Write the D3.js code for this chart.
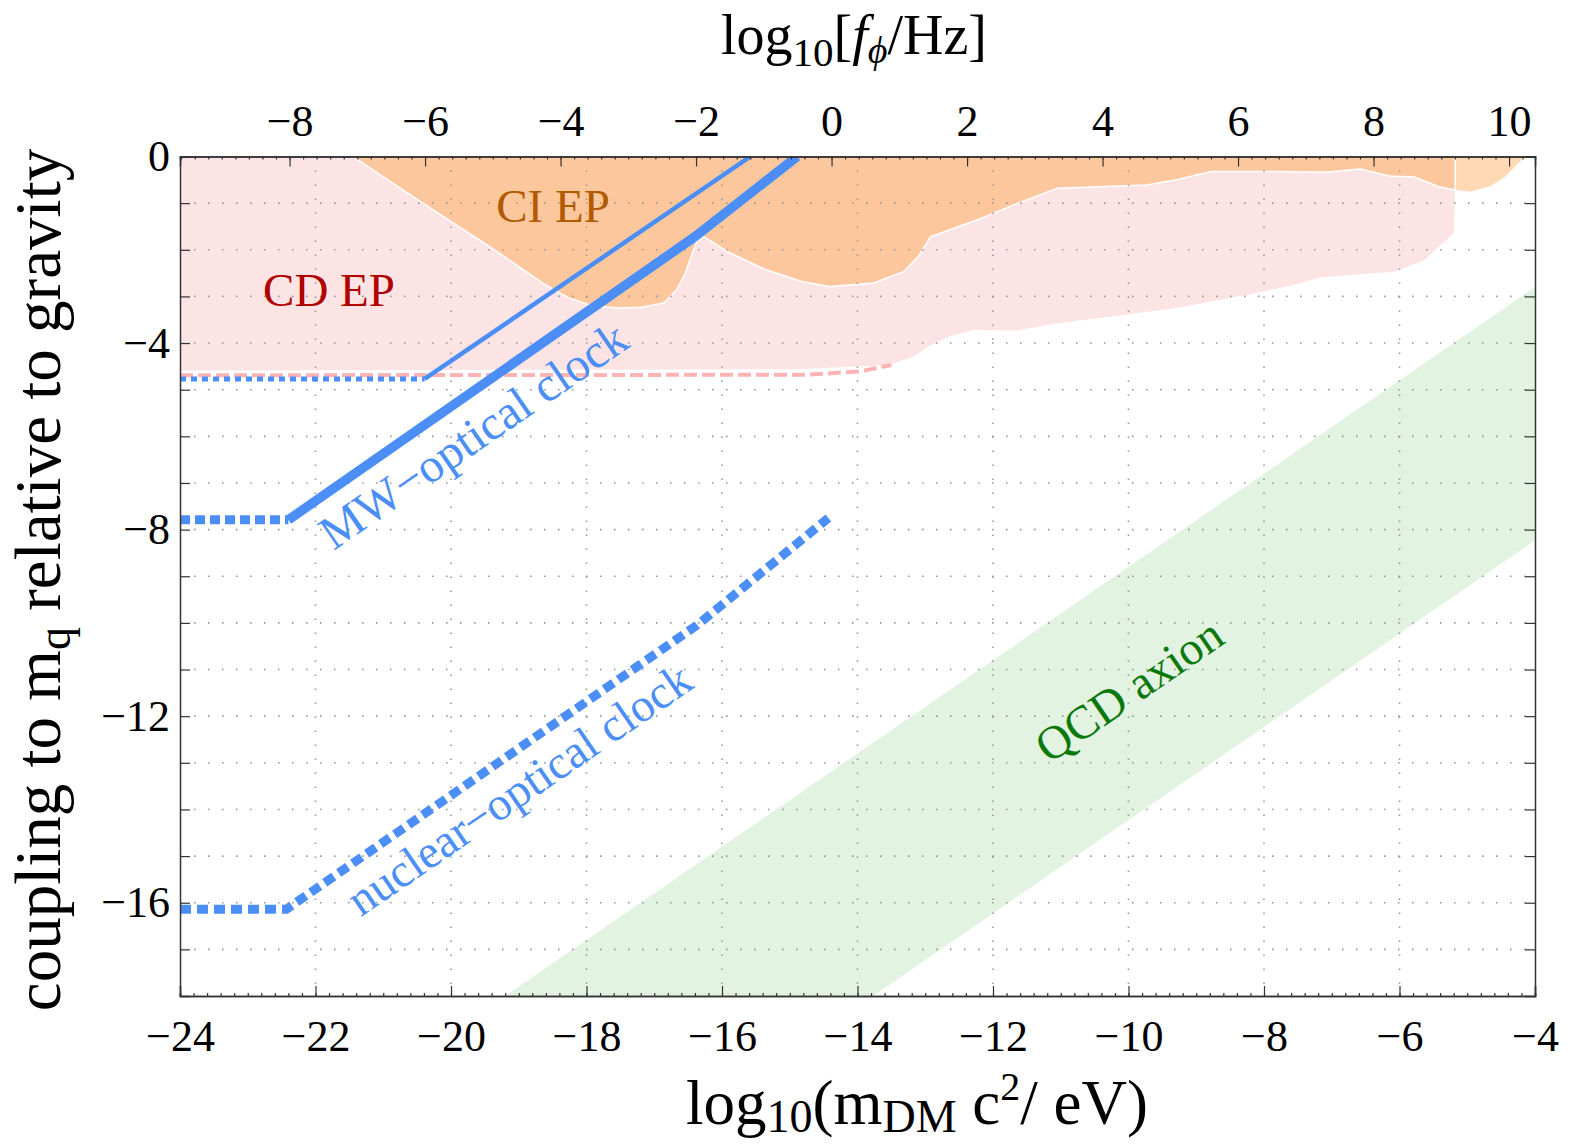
<!DOCTYPE html>
<html>
<head>
<meta charset="utf-8">
<script src="https://cdn.jsdelivr.net/npm/d3@7"></script>
<style>
  body { margin: 0; background: #fff; }
  svg { display: block; font-family: "Liberation Serif", "DejaVu Serif", serif; }
</style>
</head>
<body>
<svg id="chart" width="1577" height="1148"></svg>
<script>
// x = log10(m c^2 / eV), y = log10(coupling relative to gravity)
const xTicks = [-24, -22, -20, -18, -16, -14, -12, -10, -8, -6, -4];
const fTicks = [-8, -6, -4, -2, 0, 2, 4, 6, 8, 10];
const yTicks = [-16, -12, -8, -4, 0];
const F_OFFSET = 14.383; // log10(eV/h / Hz)

// CD EP (pink) excluded region, outline
const cdEP = [[-24, 0], [-5.18, 0], [-5.18, -0.72], [-5.2, -1.64], [-5.63, -2.22], [-6.07, -2.47],
  [-7.17, -2.59], [-7.54, -2.75], [-8.27, -2.97], [-9.29, -3.25], [-10.02, -3.39], [-10.75, -3.52],
  [-11.19, -3.61], [-11.63, -3.73], [-12.29, -3.72], [-12.65, -3.86], [-12.95, -4.07], [-13.17, -4.29],
  [-13.54, -4.47], [-14.85, -4.56], [-24, -4.59]];

// CI EP (orange) excluded region, outline
const ciEP = [[-21.45, 0], [-20.49, -0.93], [-19.43, -1.93], [-18.64, -2.72], [-18.25, -3.04],
  [-17.92, -3.2], [-17.52, -3.25], [-17.19, -3.23], [-16.86, -3.14], [-16.67, -2.86], [-16.54, -2.5],
  [-16.44, -2.07], [-16.37, -1.82], [-16.27, -1.72], [-15.88, -2.07], [-15.35, -2.43], [-14.82, -2.68],
  [-14.41, -2.79], [-13.76, -2.71], [-13.32, -2.47], [-13.1, -2.14], [-12.92, -1.72], [-12.29, -1.39],
  [-12.0, -1.22], [-11.63, -1.0], [-11.05, -0.68], [-9.73, -0.61], [-9.29, -0.5], [-8.78, -0.32],
  [-7.9, -0.32], [-7.1, -0.34], [-6.58, -0.27], [-6.15, -0.42], [-5.78, -0.44], [-5.42, -0.65],
  [-5.18, -0.72], [-5.18, 0]];

// lighter region in the top right corner
const peach = [[-5.18, 0], [-5.18, -0.72], [-4.95, -0.75], [-4.66, -0.64], [-4.44, -0.43], [-4.15, 0]];

// dashed CD EP edge
const cdDashed = [[-24, -4.69], [-14.78, -4.68], [-13.97, -4.61], [-13.5, -4.47]];

// QCD axion band edges
const qcdUpper = [[-19.2, -18], [-4, -2.8]];
const qcdLower = [[-13.77, -18], [-4, -8.23]];

// clock curves
const mwThinSolid = [[-20.39, -4.77], [-15.58, 0]];
const mwThinDotted = [[-24, -4.77], [-20.39, -4.77]];
const mwThickSolid = [[-22.4, -7.79], [-16.4, -1.72], [-14.89, 0]];
const mwThickDotted = [[-24, -7.79], [-22.4, -7.79]];
const nuclear = [[-24, -16.14], [-22.43, -16.14], [-16.37, -10.05], [-14.43, -7.75]];

const colors = {
    pink: '#fde4e4',
    orange: '#fdc79d',
    peach: '#fed9b3',
    green: '#e2f3e2',
    blue: '#4b8ef6',
    pinkLine: '#ffb3b3',
    grid: '#9a9a9a'
};

const svg = d3.select('#chart');
const x = d3.scaleLinear().domain([-24, -4]).range([180, 1535]);
const xTop = d3.scaleLinear().domain([-24 + F_OFFSET, -4 + F_OFFSET]).range([180, 1535]);
const y = d3.scaleLinear().domain([-18, 0]).range([996, 156.5]);

const line = d3.line().x(d => x(d[0])).y(d => y(d[1]));

svg.append('defs').append('clipPath').attr('id', 'plot')
    .append('rect').attr('x', x(-24)).attr('y', y(0))
    .attr('width', x(-4) - x(-24)).attr('height', y(-18) - y(0));

const plot = svg.append('g').attr('clip-path', 'url(#plot)');

// QCD band
plot.append('path')
    .attr('d', line([...qcdUpper, ...qcdLower.slice().reverse()]) + 'Z')
    .attr('fill', colors.green);

plot.append('path').attr('d', line(cdEP) + 'Z').attr('fill', colors.pink);
plot.append('path').attr('d', line(peach) + 'Z').attr('fill', colors.peach);
plot.append('path').attr('d', line(ciEP) + 'Z')
    .attr('fill', colors.orange).attr('stroke', '#fff').attr('stroke-width', 1.5);

plot.append('path').attr('d', line(cdDashed))
    .attr('fill', 'none').attr('stroke', colors.pinkLine)
    .attr('stroke-width', 4).attr('stroke-dasharray', '13,5');

// dotted grid
const gridV = d3.range(-22, -4, 2);
const gridH = d3.range(-17, 0, 1);
plot.selectAll('.gv').data(gridV).join('line')
    .attr('x1', d => x(d)).attr('x2', d => x(d))
    .attr('y1', y(0)).attr('y2', y(-18))
    .attr('stroke', colors.grid).attr('stroke-width', 1.6)
    .attr('stroke-dasharray', '1.6,12.4');
plot.selectAll('.gh').data(gridH).join('line')
    .attr('x1', x(-24)).attr('x2', x(-4))
    .attr('y1', d => y(d)).attr('y2', d => y(d))
    .attr('stroke', colors.grid).attr('stroke-width', 1.6)
    .attr('stroke-dasharray', '1.6,12.4');

// clock lines
function curve(pts, width, dash) {
    plot.append('path').attr('d', line(pts))
        .attr('fill', 'none').attr('stroke', colors.blue)
        .attr('stroke-width', width)
        .attr('stroke-linejoin', 'miter')
        .attr('stroke-dasharray', dash || null);
}
curve(mwThinDotted, 5, '6,5');
curve(mwThinSolid, 4.5);
curve(mwThickDotted, 9, '10,5');
curve(mwThickSolid, 9.5);
curve(nuclear, 9, '11,6');

// labels inside the plot
const ang = -Math.atan((y(-1) - y(0)) / (x(-23) - x(-24))) * 180 / Math.PI;
function label(txt, cx, cy, color, rot, size) {
    svg.append('text')
        .attr('transform', `translate(${cx},${cy}) rotate(${rot})`)
        .attr('text-anchor', 'middle').attr('dominant-baseline', 'central')
        .attr('font-size', size).attr('fill', color).text(txt);
}
label('CI EP', 553, 206, '#b25a00', 0, 47);
label('CD EP', 329, 290, '#b00000', 0, 47);
label('MW\u2212optical clock', 473, 435, colors.blue, ang, 48);
label('nuclear\u2212optical clock', 519, 789, colors.blue, ang, 47);
label('QCD axion', 1129, 690, '#0a780a', ang, 47);

// axes
const fmt = d3.format('d');
const tickFont = g => g.selectAll('text').attr('font-size', 44).attr('fill', '#000')
    .attr('font-family', '"Liberation Serif", serif');
const axisStyle = g => {
    g.select('.domain').attr('stroke', '#333').attr('stroke-width', 1.5);
    g.selectAll('.tick line').attr('stroke', '#333').attr('stroke-width', 1.2);
};

svg.append('g').attr('transform', `translate(0,${y(-18)})`)
    .call(d3.axisBottom(x).tickValues(d3.range(-24, -3.99, 0.2)).tickSize(-3).tickFormat(''))
    .call(axisStyle);
svg.append('g').attr('transform', `translate(0,${y(-18)})`)
    .call(d3.axisBottom(x).tickValues(xTicks).tickSize(-10).tickPadding(24).tickFormat(fmt))
    .call(axisStyle).call(tickFont);

svg.append('g').attr('transform', `translate(0,${y(0)})`)
    .call(d3.axisTop(xTop).tickValues(d3.range(-9.6, 10.4, 0.2)).tickSize(-3).tickFormat(''))
    .call(axisStyle);
svg.append('g').attr('transform', `translate(0,${y(0)})`)
    .call(d3.axisTop(xTop).tickValues(fTicks).tickSize(-10).tickPadding(21).tickFormat(fmt))
    .call(axisStyle).call(tickFont);

svg.append('g').attr('transform', `translate(${x(-24)},0)`)
    .call(d3.axisLeft(y).tickValues(d3.range(-17, 1, 1)).tickSize(-10).tickPadding(10)
        .tickFormat(d => yTicks.includes(d) ? fmt(d) : ''))
    .call(axisStyle).call(tickFont);
svg.append('g').attr('transform', `translate(${x(-4)},0)`)
    .call(d3.axisRight(y).tickValues(d3.range(-17, 1, 1)).tickSize(-10).tickFormat(''))
    .call(axisStyle);

// axis titles
const bt = svg.append('text').attr('x', 917).attr('y', 1124)
    .attr('text-anchor', 'middle').attr('font-size', 63);
bt.append('tspan').text('log');
bt.append('tspan').attr('font-size', 46).attr('dy', 8).text('10');
bt.append('tspan').attr('dy', -8).text('(m');
bt.append('tspan').attr('font-size', 46).attr('dy', 8).text('DM');
bt.append('tspan').attr('dy', -8).text(' c');
bt.append('tspan').attr('font-size', 40).attr('dy', -24).text('2');
bt.append('tspan').attr('dy', 24).text('/ eV)');

const tt = svg.append('text').attr('x', 854).attr('y', 54)
    .attr('text-anchor', 'middle').attr('font-size', 56);
tt.append('tspan').text('log');
tt.append('tspan').attr('font-size', 41).attr('dy', 12).text('10');
tt.append('tspan').attr('dy', -12).text('[');
tt.append('tspan').attr('font-style', 'italic').text('f');
tt.append('tspan').attr('font-style', 'italic').attr('font-size', 38).attr('dy', 9).text('\u03d5');
tt.append('tspan').attr('dy', -9).text('/Hz]');

const lt = svg.append('text')
    .attr('transform', 'translate(60,580) rotate(-90)')
    .attr('text-anchor', 'middle').attr('font-size', 65);
lt.append('tspan').text('coupling to m');
lt.append('tspan').attr('font-size', 46).attr('dy', 10).text('q');
lt.append('tspan').attr('dy', -10).text(' relative to gravity');
</script>
</body>
</html>
